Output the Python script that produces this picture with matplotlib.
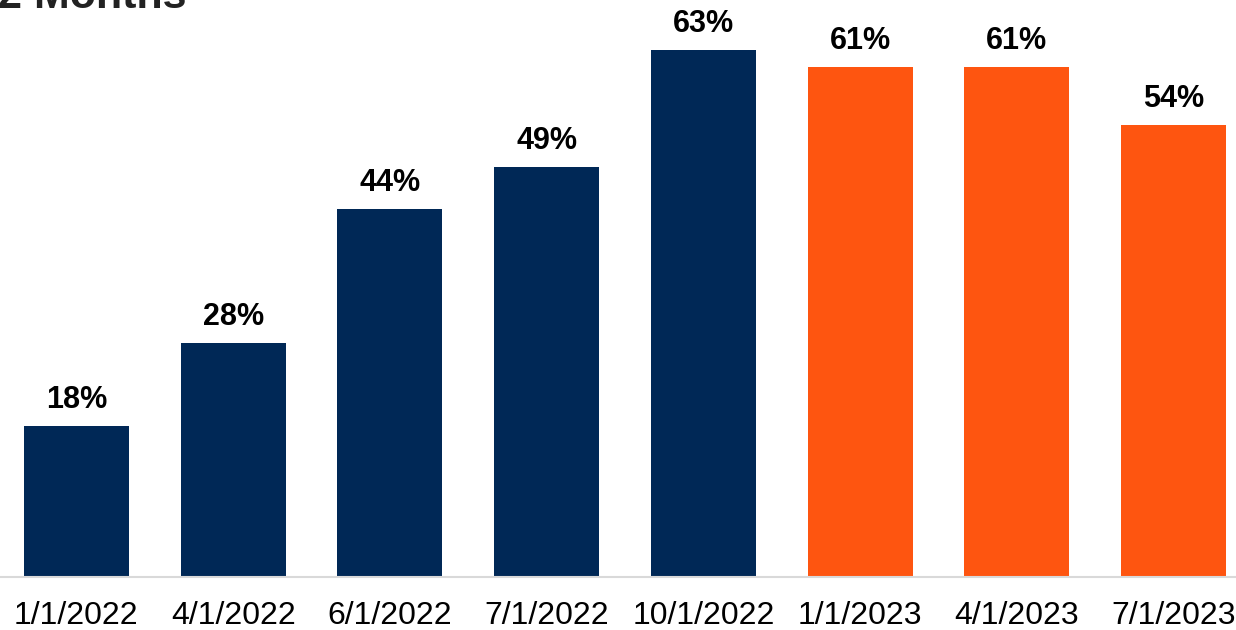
import matplotlib
matplotlib.use("Agg")
import matplotlib.pyplot as plt

# Share of respondents by survey date
dates = ["1/1/2022", "4/1/2022", "6/1/2022", "7/1/2022", "10/1/2022",
         "1/1/2023", "4/1/2023", "7/1/2023"]
values = [18, 28, 44, 49, 63, 61, 61, 54]
year_2022 = [True, True, True, True, True, False, False, False]

NAVY = "#002856"
ORANGE = "#FE5510"

plt.rcParams["font.family"] = ["Liberation Sans", "DejaVu Sans"]

W, H, DPI = 1236, 630, 100
fig = plt.figure(figsize=(W / DPI, H / DPI), dpi=DPI)

ymax = 68
px_per_unit = 8.365
bottom_px = 577
ax_h = ymax * px_per_unit
ax = fig.add_axes([-2 / W, (H - bottom_px) / H, 1254 / W, ax_h / H])

colors = [NAVY if f else ORANGE for f in year_2022]
x = range(len(dates))
bars = ax.bar(x, values, width=0.67, color=colors, zorder=2)

for xi, v in zip(x, values):
    ax.annotate(f"{v}%", (xi, v), xytext=(0, 13), textcoords="offset points",
                ha="center", va="baseline", fontsize=22, fontweight="bold",
                color="black")

ax.set_xlim(-0.5, len(dates) - 0.5)
ax.set_ylim(0, ymax)
ax.set_xticks(list(x))
ax.set_xticklabels(dates, fontsize=23, color="black")
ax.tick_params(axis="x", length=0, pad=17)
ax.set_yticks([])
for side in ("top", "right", "left"):
    ax.spines[side].set_visible(False)
ax.spines["bottom"].set_color("#d9d9d9")
ax.spines["bottom"].set_linewidth(1.5)
ax.set_facecolor("none")

fig.text(187 / W, (H - 8.5) / H, "2 Months", ha="right", va="baseline",
         fontsize=31, fontweight="bold", color="#222222")

fig.savefig("out.png", dpi=DPI)
